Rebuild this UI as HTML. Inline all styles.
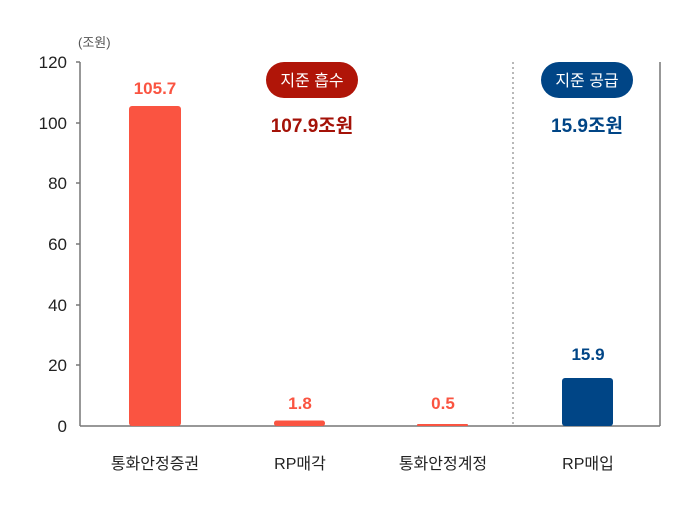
<!DOCTYPE html>
<html><head><meta charset="utf-8"><style>
body{margin:0;background:#fff;}
svg text{font-family:"Liberation Sans","Noto Sans CJK KR",sans-serif;}
</style></head><body>
<svg width="700" height="503" xmlns="http://www.w3.org/2000/svg">
<rect width="700" height="503" fill="#fff"/>
<text x="78" y="47" font-size="13" fill="#555">(조원)</text>
<g font-size="17" fill="#222" text-anchor="end">
<text x="67" y="68">120</text>
<text x="67" y="129">100</text>
<text x="67" y="189">80</text>
<text x="67" y="250">60</text>
<text x="67" y="311">40</text>
<text x="67" y="371">20</text>
<text x="67" y="432">0</text>
</g>
<g stroke="#777" stroke-width="1.5">
<line x1="80" y1="62" x2="80" y2="426"/>
<line x1="76" y1="62" x2="80" y2="62"/>
<line x1="76" y1="123" x2="80" y2="123"/>
<line x1="76" y1="183" x2="80" y2="183"/>
<line x1="76" y1="244" x2="80" y2="244"/>
<line x1="76" y1="305" x2="80" y2="305"/>
<line x1="76" y1="365" x2="80" y2="365"/>
<line x1="80" y1="426" x2="660" y2="426"/>
<line x1="660" y1="62" x2="660" y2="426"/>
</g>
<line x1="513" y1="62" x2="513" y2="426" stroke="#888" stroke-width="1.2" stroke-dasharray="2,3"/>
<rect x="129" y="106" width="52" height="320" rx="3" fill="#fa5441"/>
<rect x="274" y="420.5" width="51" height="5.5" rx="2.5" fill="#fa5441"/>
<rect x="417" y="424" width="51" height="2" rx="1" fill="#fa5441"/>
<rect x="562" y="378" width="51" height="48" rx="3" fill="#004586"/>
<g font-size="17" font-weight="bold" text-anchor="middle">
<text x="155" y="94" fill="#fa5441">105.7</text>
<text x="300" y="409" fill="#fa5441">1.8</text>
<text x="443" y="409" fill="#fa5441">0.5</text>
<text x="588" y="360" fill="#004586">15.9</text>
</g>
<rect x="266" y="62" width="92" height="36" rx="18" fill="#b01508"/>
<text x="312" y="86" font-size="16" fill="#fff" text-anchor="middle">지준 흡수</text>
<text x="312" y="132" font-size="19" font-weight="bold" fill="#a41208" text-anchor="middle">107.9조원</text>
<rect x="541" y="62" width="92" height="36" rx="18" fill="#004586"/>
<text x="587" y="86" font-size="16" fill="#fff" text-anchor="middle">지준 공급</text>
<text x="587" y="132" font-size="19" font-weight="bold" fill="#004586" text-anchor="middle">15.9조원</text>
<g font-size="16" fill="#222" text-anchor="middle">
<text x="155" y="469">통화안정증권</text>
<text x="300" y="469">RP매각</text>
<text x="443" y="469">통화안정계정</text>
<text x="588" y="469">RP매입</text>
</g>
</svg>
</body></html>
